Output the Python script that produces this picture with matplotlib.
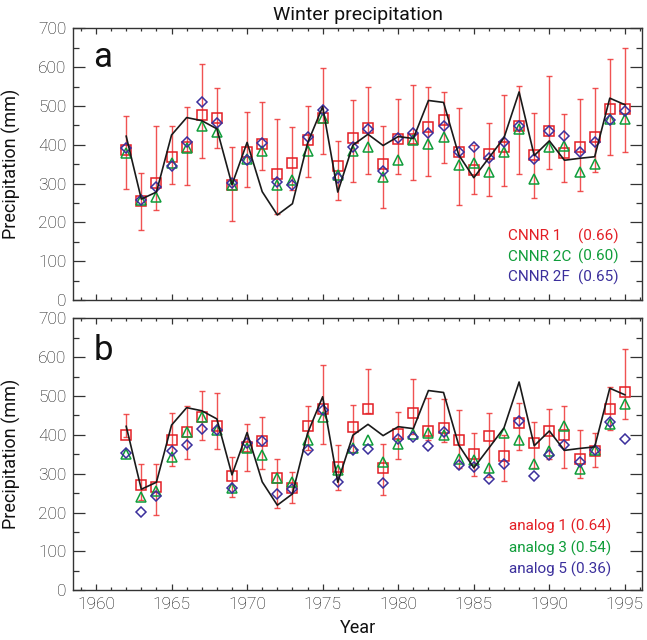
import matplotlib
matplotlib.use("Agg")
import matplotlib.pyplot as plt
from matplotlib.ticker import MultipleLocator

plt.rcParams['font.family'] = ['Roboto', 'DejaVu Sans']
plt.rcParams['font.weight'] = 'light'

# data (mm)
years = list(range(1962, 1996))
observed = [422, 260, 278, 425, 470, 462, 441, 297, 406, 279, 219, 248, 404, 498, 278, 399, 427,
            398, 421, 416, 514, 509, 374, 315, 366, 418, 536, 372, 410, 360, 365, 369, 520, 503]

# panel a: neural network models
cnnr1 = [387, 255, 301, 369, 395, 477, 468, 295, 380, 402, 325, 352, 412, 468, 344, 418, 442,
         351, 414, 415, 445, 464, 381, 335, 376, 393, 447, 374, 436, 378, 393, 419, 491, 491]
cnnr1_hi = [474, 326, 447, 447, 496, 608, 546, 395, 484, 509, 466, 445, 501, 597, 410, 514, 550,
            448, 518, 554, 550, 537, 494, 398, 457, 527, 552, 481, 576, 479, 517, 546, 621, 649]
cnnr1_lo = [285, 179, 232, 298, 296, 367, 391, 204, 290, 335, 221, 284, 318, 376, 258, 304, 324,
            236, 324, 309, 320, 353, 245, 272, 269, 294, 325, 262, 338, 305, 281, 331, 374, 380]
cnnr2c = [378, 258, 265, 352, 391, 448, 434, 295, 363, 384, 295, 308, 384, 468, 322, 384, 395,
          316, 361, 411, 402, 421, 348, 354, 331, 380, 440, 312, 395, 397, 331, 350, 466, 466]
cnnr2f = [391, 258, 292, 344, 408, 511, 455, 301, 361, 405, 303, 295, 419, 490, 314, 395, 441,
          332, 417, 430, 430, 449, 382, 393, 365, 406, 449, 363, 436, 423, 380, 408, 464, 488]

# panel b: analogues
analog1 = [400, 272, 265, 386, 407, 445, 424, 294, 370, 385, 290, 264, 424, 467, 316, 419, 466,
           314, 402, 457, 411, 417, 388, 350, 398, 346, 430, 380, 411, 400, 338, 359, 466, 510]
analog1_hi = [454, 324, 326, 455, 475, 512, 507, 344, 427, 445, 338, 304, 473, 579, 373, 476, 569,
              376, 458, 544, 494, 491, 464, 404, 455, 399, 481, 434, 466, 473, 413, 404, 523, 621]
analog1_lo = [395, 232, 195, 320, 338, 387, 364, 239, 308, 312, 213, 224, 360, 377, 258, 357, 455,
              245, 338, 402, 387, 382, 314, 293, 292, 281, 361, 314, 339, 314, 288, 318, 413, 441]
analog3 = [350, 240, 255, 344, 407, 445, 413, 263, 366, 348, 290, 278, 387, 445, 310, 367, 387,
           331, 376, 402, 406, 399, 339, 336, 314, 406, 387, 325, 359, 424, 312, 361, 428, 480]
analog5 = [352, 202, 243, 359, 374, 415, 413, 263, 379, 383, 248, 260, 360, 464, 278, 361, 363,
           275, 389, 395, 372, 408, 322, 317, 286, 325, 436, 295, 348, 373, 331, 361, 433, 389]

labels_a = ['CNNR 1', 'CNNR 2C', 'CNNR 2F']
skill_a = ['(0.66)', '(0.60)', '(0.65)']
labels_b = ['analog 1 (0.64)', 'analog 3 (0.54)', 'analog 5 (0.36)']

RED = '#e31e24'
GREEN = '#0f9d3a'
BLUE = '#3b2f9c'
colors = [RED, GREEN, BLUE]
INK = '#111111'


def draw_panel(ax, s1, hi, lo, s2, s3):
    err = [[v - l for v, l in zip(s1, lo)], [h - v for v, h in zip(s1, hi)]]
    ax.errorbar(years, s1, yerr=err, fmt='none', ecolor='#ee3535', elinewidth=1.0,
                capsize=2.3, capthick=1.0, alpha=0.85, zorder=2)
    ax.plot(years, s1, 's', ms=7.2, mfc='none', mec=RED, mew=1.1, zorder=3)
    ax.plot(years, s2, '^', ms=7.4, mfc='none', mec=GREEN, mew=1.1, zorder=3)
    ax.plot(years, s3, 'D', ms=5.4, mfc='none', mec=BLUE, mew=1.1, zorder=3)
    ax.plot(years, observed, '-', color='#1a1a1a', lw=1.2, zorder=4)

    ax.set_xlim(1958.5, 1996.15)
    ax.set_ylim(0, 700)
    ax.xaxis.set_major_locator(MultipleLocator(5))
    ax.xaxis.set_minor_locator(MultipleLocator(1))
    ax.yaxis.set_major_locator(MultipleLocator(100))
    ax.yaxis.set_minor_locator(MultipleLocator(50))
    ax.tick_params(axis='both', which='both', direction='in', top=True, right=True,
                   color='#333333', width=0.9, labelsize=12.5, labelcolor=INK, pad=5)
    ax.tick_params(axis='x', which='major', length=4.5)
    ax.tick_params(axis='x', which='minor', length=2.3)
    ax.tick_params(axis='y', which='major', length=8.5)
    ax.tick_params(axis='y', which='minor', length=4.5)
    for sp in ax.spines.values():
        sp.set_linewidth(1.0)
        sp.set_color('#333333')
    ax.set_ylabel('Precipitation (mm)', fontsize=13, color=INK)
    ax.yaxis.set_label_coords(-0.092, 0.5)


fig = plt.figure(figsize=(6.47, 6.40), dpi=100)
ax_a = fig.add_axes([0.1133, 0.5313, 0.8794, 0.4245])
ax_b = fig.add_axes([0.1133, 0.0777, 0.8794, 0.4250])

draw_panel(ax_a, cnnr1, cnnr1_hi, cnnr1_lo, cnnr2c, cnnr2f)
draw_panel(ax_b, analog1, analog1_hi, analog1_lo, analog3, analog5)

ax_a.tick_params(axis='x', labelbottom=False)
ax_b.set_xlabel('Year', fontsize=13, color=INK, labelpad=5)
ax_a.set_title('Winter precipitation', fontsize=14, color=INK, pad=6)

ax_a.text(0.035, 0.857, 'a', transform=ax_a.transAxes, fontsize=25, weight='normal',
          color=INK, ha='left', va='baseline')
ax_b.text(0.035, 0.847, 'b', transform=ax_b.transAxes, fontsize=25, weight='normal',
          color=INK, ha='left', va='baseline')

for i in range(3):
    y = 0.235 - i * 0.076
    ax_a.text(0.764, y, labels_a[i], transform=ax_a.transAxes, color=colors[i],
              fontsize=11, weight='normal', ha='left', va='center')
    ax_a.text(0.959, y, skill_a[i], transform=ax_a.transAxes, color=colors[i],
              fontsize=11, weight='normal', ha='right', va='center')
    ax_b.text(0.765, 0.234 - i * 0.079, labels_b[i], transform=ax_b.transAxes,
              color=colors[i], fontsize=11, weight='normal', ha='left', va='center')

fig.savefig('out.png', dpi=100)
